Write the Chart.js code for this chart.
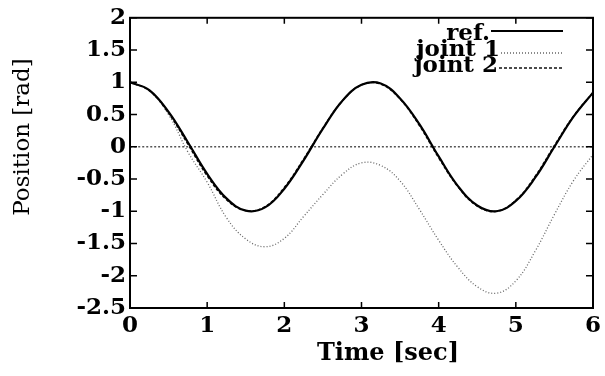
<!DOCTYPE html>
<html>
<head>
<meta charset="utf-8">
<script src="https://cdn.jsdelivr.net/npm/chart.js@4.4.1/dist/chart.umd.min.js"></script>
<style>
  html, body { margin: 0; padding: 0; background: #fff; }
  #wrap { width: 605px; height: 376px; }
</style>
</head>
<body>
<div id="wrap"><canvas id="posChart"></canvas></div>
<script>
// values, every 0.25 s
const time      = [0, 0.25, 0.5, 0.75, 1, 1.25, 1.5, 1.75, 2, 2.25, 2.5, 2.75, 3, 3.25, 3.5, 3.75, 4, 4.25, 4.5, 4.75, 5, 5.25, 5.5, 5.75, 6];
const refPos    = [1, 0.88, 0.54, 0.07, -0.42, -0.8, -0.99, -0.94, -0.65, -0.21, 0.28, 0.71, 0.96, 0.98, 0.75, 0.35, -0.15, -0.61, -0.91, -1.0, -0.84, -0.48, 0.0, 0.47, 0.84];
const joint1Pos = [1, 0.87, 0.5, -0.08, -0.55, -1.1, -1.43, -1.55, -1.42, -1.08, -0.74, -0.43, -0.25, -0.29, -0.53, -0.97, -1.45, -1.87, -2.17, -2.27, -2.08, -1.62, -1.05, -0.52, -0.12];
const joint2Pos = [1, 0.87, 0.52, 0.04, -0.45, -0.82, -0.99, -0.93, -0.63, -0.19, 0.29, 0.71, 0.96, 0.97, 0.74, 0.33, -0.17, -0.62, -0.92, -1.0, -0.83, -0.46, 0.02, 0.48, 0.84];
const zeroTime  = [0, 6];
const zeroPos   = [0, 0];
const xTicks    = [0, 1, 2, 3, 4, 5, 6];
const yTicks    = [-2.5, -2, -1.5, -1, -0.5, 0, 0.5, 1, 1.5, 2];

const FONT = "'DejaVu Serif', serif";

function pts(xs, ys) {
    return xs.map(function (x, i) { return { x: x, y: ys[i] }; });
}

// box around plot with inward tick marks
const framePlugin = {
    id: 'frame',
    afterDraw: function (chart) {
        const ctx = chart.ctx;
        const a = chart.chartArea;
        const xs = chart.scales.x, ys = chart.scales.y;
        ctx.save();
        ctx.strokeStyle = '#000';
        ctx.lineWidth = 2;
        ctx.strokeRect(a.left, a.top, a.right - a.left, a.bottom - a.top);
        ctx.lineWidth = 1.5;
        ctx.beginPath();
        xTicks.forEach(function (t) {
            const px = xs.getPixelForValue(t);
            ctx.moveTo(px, a.bottom); ctx.lineTo(px, a.bottom - 6);
            ctx.moveTo(px, a.top); ctx.lineTo(px, a.top + 6);
        });
        yTicks.forEach(function (t) {
            const py = ys.getPixelForValue(t);
            ctx.moveTo(a.left, py); ctx.lineTo(a.left + 7, py);
            ctx.moveTo(a.right, py); ctx.lineTo(a.right - 7, py);
        });
        ctx.stroke();
        ctx.restore();
    }
};

// axis titles, placed where the original has them
const titlesPlugin = {
    id: 'axisTitles',
    afterDraw: function (chart) {
        const ctx = chart.ctx;
        ctx.save();
        ctx.fillStyle = '#000';
        ctx.textAlign = 'center';
        ctx.textBaseline = 'alphabetic';
        ctx.font = 'bold 24px ' + FONT;
        ctx.fillText('Time [sec]', 388, 360);
        ctx.translate(29, 137);
        ctx.rotate(-Math.PI / 2);
        ctx.font = '23px ' + FONT;
        ctx.fillText('Position [rad]', 0, 0);
        ctx.restore();
    }
};

// legend: label first, line sample after it
const legendPlugin = {
    id: 'sideLegend',
    afterDraw: function (chart) {
        const ctx = chart.ctx;
        const ds = chart.data.datasets;
        const rows = [
            { text: 'ref.', xr: 490, base: 40, ly: 31, ds: ds[0] },
            { text: 'joint 1', xr: 500, base: 56, ly: 53, ds: ds[1] },
            { text: 'joint 2', xr: 498, base: 72, ly: 68, ds: ds[2] }
        ];
        ctx.save();
        ctx.font = 'bold 23px ' + FONT;
        ctx.textAlign = 'right';
        ctx.textBaseline = 'alphabetic';
        ctx.fillStyle = '#000';
        rows.forEach(function (r) {
            ctx.fillText(r.text, r.xr, r.base);
            ctx.beginPath();
            ctx.strokeStyle = r.ds.borderColor;
            ctx.lineWidth = r.ds.borderWidth;
            ctx.setLineDash(r.ds.borderDash || []);
            ctx.moveTo(r.xr + 1, r.ly);
            ctx.lineTo(563, r.ly);
            ctx.stroke();
        });
        ctx.restore();
    }
};

const ctx = document.getElementById('posChart').getContext('2d');
const posChart = new Chart(ctx, {
    type: 'scatter',
    data: {
        datasets: [
            { label: 'ref.', data: pts(time, refPos), borderColor: '#000', borderWidth: 2.2, borderDash: [] },
            { label: 'joint 1', data: pts(time, joint1Pos), borderColor: '#666', borderWidth: 1.3, borderDash: [1, 2] },
            { label: 'joint 2', data: pts(time, joint2Pos), borderColor: '#111', borderWidth: 1.5, borderDash: [3, 2] },
            { label: 'zero', data: pts(zeroTime, zeroPos), borderColor: '#555', borderWidth: 1.5, borderDash: [2, 2] }
        ]
    },
    options: {
        responsive: true,
        maintainAspectRatio: false,
        animation: false,
        showLine: true,
        elements: { point: { radius: 0 }, line: { tension: 0.4 } },
        layout: { padding: { left: 0, right: 12, top: 15, bottom: 0 } },
        plugins: { legend: { display: false }, tooltip: { enabled: false } },
        scales: {
            x: {
                type: 'linear', min: 0, max: 6,
                afterBuildTicks: function (s) { s.ticks = xTicks.map(function (v) { return { value: v }; }); },
                afterFit: function (s) { s.height = 68; },
                grid: { display: false, drawTicks: false },
                border: { display: false },
                ticks: {
                    color: '#000', padding: 4,
                    font: { family: FONT, size: 23, weight: 'bold' },
                    callback: function (v) { return String(v); }
                }
            },
            y: {
                type: 'linear', min: -2.5, max: 2,
                afterBuildTicks: function (s) { s.ticks = yTicks.map(function (v) { return { value: v }; }); },
                afterFit: function (s) { s.width = 130; },
                grid: { display: false, drawTicks: false },
                border: { display: false },
                ticks: {
                    color: '#000', padding: 4,
                    font: { family: FONT, size: 23, weight: 'bold' },
                    callback: function (v) { return String(v); }
                }
            }
        }
    },
    plugins: [framePlugin, titlesPlugin, legendPlugin]
});
</script>
</body>
</html>
